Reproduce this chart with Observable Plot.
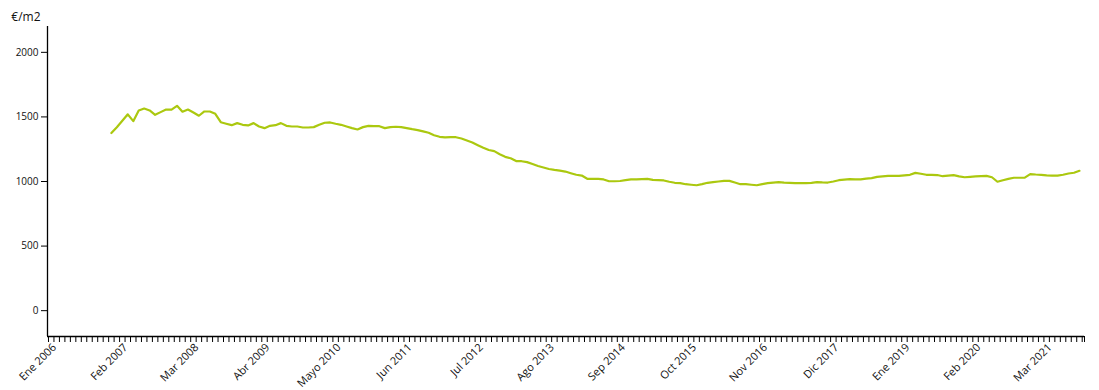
<!DOCTYPE html>
<html>
<head>
<meta charset="utf-8">
<script src="https://cdn.jsdelivr.net/npm/d3@7"></script>
<script src="https://cdn.jsdelivr.net/npm/@observablehq/plot@0.6"></script>
<style>
  html, body { margin: 0; padding: 0; background: #fff; }
  #chart svg { display: block; }
</style>
</head>
<body>
<div id="chart"></div>
<script>
// Month index 0 = Ene 2006; first observation at index 11 (Dic 2006)
const firstMonth = 11;
const prices = [
  1375, 1420, 1470, 1520, 1467, 1550, 1565, 1550, 1516, 1537,
  1557, 1557, 1586, 1540, 1557, 1534, 1509, 1542, 1542, 1524,
  1459, 1447, 1436, 1452, 1439, 1434, 1452, 1426, 1413, 1431,
  1436, 1452, 1431, 1426, 1426, 1418, 1418, 1421, 1439, 1455,
  1457, 1447, 1439, 1426, 1413, 1403, 1421, 1431, 1428, 1428,
  1413, 1421, 1424, 1421, 1413, 1405, 1398, 1388, 1377, 1358,
  1346, 1341, 1343, 1343, 1333, 1317, 1302, 1281, 1261, 1244,
  1235, 1211, 1191, 1180, 1158, 1157, 1150, 1135, 1120, 1108,
  1097, 1090, 1084, 1077, 1064, 1052, 1046, 1021, 1021, 1021,
  1016, 1002, 1002, 1004, 1010, 1016, 1016, 1019, 1020, 1012,
  1010, 1008, 998, 990, 987, 979, 975, 971, 980, 990,
  995, 1000, 1005, 1005, 992, 979, 979, 975, 971, 980,
  987, 992, 995, 992, 990, 988, 987, 987, 990, 995,
  993, 992, 1000, 1010, 1014, 1018, 1017, 1016, 1022, 1026,
  1036, 1040, 1044, 1044, 1044, 1048, 1052, 1067, 1060, 1052,
  1052, 1050, 1041, 1045, 1049, 1040, 1033, 1036, 1039, 1042,
  1044, 1033, 998, 1010, 1020, 1029, 1029, 1030, 1057, 1054,
  1052, 1048, 1046, 1046, 1052, 1062, 1068, 1083
];
const tickLabels = [
  "Ene 2006", "Feb 2007", "Mar 2008", "Abr 2009", "Mayo 2010",
  "Jun 2011", "Jul 2012", "Ago 2013", "Sep 2014", "Oct 2015",
  "Nov 2016", "Dic 2017", "Ene 2019", "Feb 2020", "Mar 2021"
];
const labelStep = 13;
const monthCount = 190;
const yTicks = [0, 500, 1000, 1500, 2000];
const yUnit = "€/m2";

const data = prices.map((v, i) => ({month: firstMonth + i + 0.5, price: v}));
const xDomain = [-0.18, monthCount - 0.58];
const yDomain = [-200, 2200];

const monthTicks = d3.range(0, monthCount).concat([xDomain[1]]);
const labelTicks = tickLabels.map((t, i) => i * labelStep);

const chart = Plot.plot({
  width: 1099,
  height: 390,
  marginLeft: 47,
  marginRight: 15,
  marginTop: 26,
  marginBottom: 54,
  style: {fontFamily: "'Open Sans', sans-serif", fontSize: "10px", color: "#111", background: "#fff"},
  x: {domain: xDomain, axis: null},
  y: {domain: yDomain, axis: null},
  marks: [
    Plot.axisY({ticks: yTicks, tickSize: 6, tickPadding: 3, label: null, fontSize: 10, tickFormat: d => String(d), stroke: "#000"}),
    Plot.axisX({
      ticks: monthTicks,
      tickSize: 6,
      label: null,
      stroke: "#000",
      tickFormat: () => ""
    }),
    Plot.axisX({
      ticks: labelTicks,
      tickSize: 0,
      tickPadding: 9,
      tickRotate: -45,
      label: null,
      fontSize: 11,
      dx: 6,
      tickFormat: (d, i) => tickLabels[i]
    }),
    Plot.ruleX([xDomain[0]], {stroke: "#000", strokeWidth: 1.3}),
    Plot.ruleY([yDomain[0]], {stroke: "#000", strokeWidth: 1.3}),
    Plot.line(data, {x: "month", y: "price", stroke: "#abc80f", strokeWidth: 2.2, curve: "linear"}),
    Plot.text([yUnit], {frameAnchor: "top-left", text: d => d, textAnchor: "end", lineAnchor: "bottom", dx: -7, dy: -6, fontSize: 12, fill: "#111"})
  ]
});
document.getElementById("chart").appendChild(chart);
</script>
</body>
</html>
